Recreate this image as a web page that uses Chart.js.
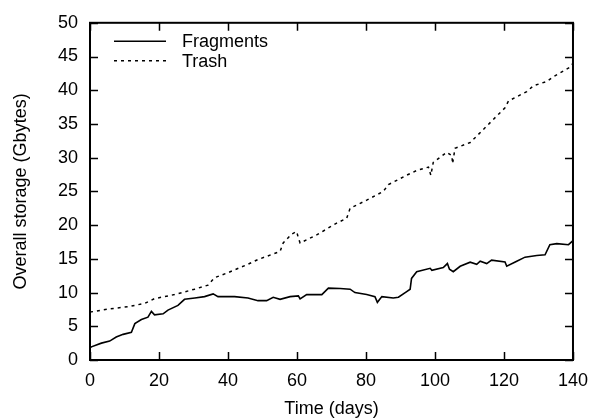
<!DOCTYPE html>
<html>
<head>
<meta charset="utf-8">
<script src="https://cdn.jsdelivr.net/npm/chart.js@4/dist/chart.umd.min.js"></script>
<style>
html,body{margin:0;padding:0;background:#fff;}
#wrap{width:598px;height:420px;}
</style>
</head>
<body>
<div id="wrap"><canvas id="c" width="598" height="420"></canvas></div>
<script>
const fragDays = [0, 0.4, 3.3, 5.7, 7.6, 9.6, 12.0, 13.0, 14.9, 16.8, 17.8, 18.7, 21.2, 22.6, 25.5, 27.4, 30.4, 33.2, 35.7, 37.1, 41.9, 45.8, 48.7, 51.2, 53.1, 55.1, 58.0, 60.4, 60.9, 62.8, 67.2, 69.1, 72.5, 75.4, 76.8, 80.2, 82.6, 83.3, 84.6, 87.9, 89.4, 91.8, 92.8, 93.2, 94.7, 98.6, 99.1, 102.4, 103.6, 104.2, 105.3, 107.3, 110.2, 112.1, 113.1, 115.0, 116.4, 120.3, 120.8, 123.7, 126.1, 129.5, 131.9, 133.3, 135.3, 138.7, 140];
const fragValues = [1.8, 1.95, 2.5, 2.8, 3.4, 3.8, 4.1, 5.4, 6.0, 6.35, 7.2, 6.7, 6.85, 7.4, 8.1, 9.0, 9.2, 9.4, 9.8, 9.4, 9.4, 9.2, 8.8, 8.8, 9.3, 9.0, 9.4, 9.5, 9.05, 9.7, 9.7, 10.65, 10.6, 10.5, 10.0, 9.7, 9.4, 8.55, 9.4, 9.2, 9.3, 10.15, 10.5, 12.1, 13.1, 13.6, 13.3, 13.7, 14.3, 13.45, 13.1, 13.9, 14.5, 14.2, 14.65, 14.3, 14.8, 14.55, 13.9, 14.65, 15.25, 15.5, 15.6, 17.1, 17.25, 17.1, 17.7];
const trashDays = [0, 5.2, 11, 15.9, 18.7, 24.5, 30.3, 34.2, 36.1, 40, 45.8, 48.7, 55.1, 56, 58.4, 59.9, 60.4, 60.9, 65.7, 71.5, 74.4, 75.4, 80.2, 85, 86.5, 91.8, 94.7, 98.1, 98.8, 99.5, 103.4, 104.9, 105.1, 105.8, 110.2, 112.1, 116, 120.3, 121.3, 126.6, 128.5, 132.4, 134.3, 139.1, 140];
const trashValues = [7.1, 7.55, 7.9, 8.4, 9.1, 9.7, 10.5, 11.1, 12.2, 12.95, 14.2, 14.9, 16.1, 17.35, 18.65, 19.05, 18.1, 17.35, 18.55, 20.3, 21.0, 22.5, 23.7, 25.0, 26.0, 27.4, 28.1, 28.6, 27.4, 29.3, 30.8, 30.3, 29.1, 31.4, 32.25, 33.2, 35.2, 37.4, 38.4, 39.8, 40.65, 41.3, 42.0, 43.4, 44.0];
const seriesNames = ['Fragments', 'Trash'];
const xTitle = 'Time (days)';
const yTitle = 'Overall storage (Gbytes)';

const FONT = 'Liberation Sans, Arial, Helvetica, sans-serif';

function pts(xs, ys) { return xs.map((x, i) => ({x: x, y: ys[i]})); }

const frame = {
  id: 'frame',
  afterDraw(chart) {
    const ctx = chart.ctx, a = chart.chartArea;
    const xs = chart.scales.x, ys = chart.scales.y;
    ctx.save();
    ctx.strokeStyle = '#000';
    ctx.lineWidth = 1.5;
    ctx.setLineDash([]);
    const L = 8;
    ctx.beginPath();
    xs.ticks.forEach(t => {
      const p = Math.round(xs.getPixelForValue(t.value)) + 0.5;
      ctx.moveTo(p, a.bottom); ctx.lineTo(p, a.bottom - L);
      ctx.moveTo(p, a.top); ctx.lineTo(p, a.top + L);
    });
    ys.ticks.forEach(t => {
      const p = Math.round(ys.getPixelForValue(t.value)) + 0.5;
      ctx.moveTo(a.left, p); ctx.lineTo(a.left + L, p);
      ctx.moveTo(a.right, p); ctx.lineTo(a.right - L, p);
    });
    ctx.stroke();
    ctx.lineWidth = 2;
    ctx.strokeRect(a.left, a.top, a.right - a.left, a.bottom - a.top);
    // legend
    ctx.font = '18px ' + FONT;
    ctx.textBaseline = 'middle';
    ctx.textAlign = 'left';
    ctx.fillStyle = '#000';
    chart.data.datasets.forEach((ds, i) => {
      const y = a.top + 18.5 + i * 19.5;
      ctx.beginPath();
      ctx.lineWidth = ds.borderWidth;
      ctx.setLineDash(ds.borderDash || []);
      ctx.moveTo(a.left + 24, y); ctx.lineTo(a.left + 76, y);
      ctx.stroke();
      ctx.fillText(ds.label, a.left + 92, y + 1);
    });
    ctx.restore();
  }
};

new Chart(document.getElementById('c'), {
  type: 'line',
  data: {
    datasets: [
      {label: seriesNames[0], data: pts(fragDays, fragValues), borderColor: '#000', borderWidth: 1.6, pointRadius: 0, tension: 0, fill: false},
      {label: seriesNames[1], data: pts(trashDays, trashValues), borderColor: '#000', borderWidth: 1.5, borderDash: [3, 4], pointRadius: 0, tension: 0, fill: false}
    ]
  },
  options: {
    responsive: false,
    animation: false,
    layout: {padding: {top: 19, right: 25, left: 0, bottom: 0}},
    plugins: {legend: {display: false}, tooltip: {enabled: false}},
    scales: {
      x: {
        type: 'linear', min: 0, max: 140,
        ticks: {stepSize: 20, color: '#000', font: {size: 18, family: FONT}, padding: 10, maxRotation: 0},
        grid: {display: false, drawTicks: false},
        border: {display: false},
        title: {display: true, text: xTitle, color: '#000', font: {size: 18, family: FONT}, padding: {top: 0, bottom: 0}},
        afterFit(s) { s.height = 60; }
      },
      y: {
        type: 'linear', min: 0, max: 50,
        ticks: {stepSize: 5, color: '#000', font: {size: 18, family: FONT}, padding: 12},
        grid: {display: false, drawTicks: false},
        border: {display: false},
        title: {display: true, text: yTitle, color: '#000', font: {size: 18, family: FONT}, padding: {top: 10, bottom: 0}},
        afterFit(s) { s.width = 90; }
      }
    }
  },
  plugins: [frame]
});
</script>
</body>
</html>
